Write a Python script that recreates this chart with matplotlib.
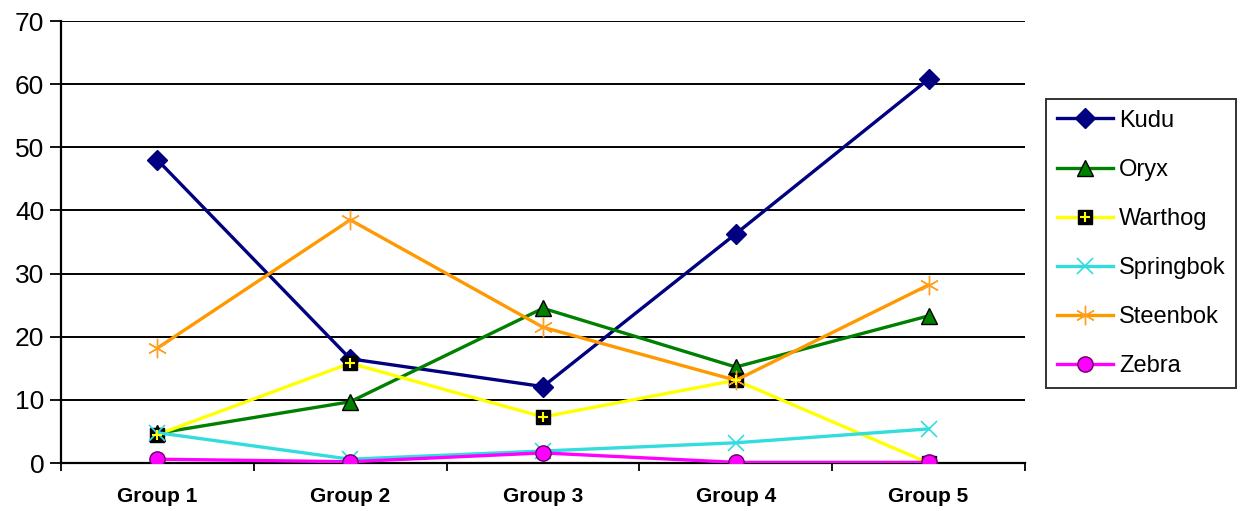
import matplotlib
matplotlib.use("Agg")
import matplotlib.pyplot as plt
from matplotlib.legend_handler import HandlerTuple

groups = ["Group 1", "Group 2", "Group 3", "Group 4", "Group 5"]
kudu = [48.0, 16.5, 12.1, 36.3, 60.8]
oryx = [4.7, 9.7, 24.5, 15.2, 23.3]
warthog = [4.5, 15.8, 7.3, 13.1, 0.0]
springbok = [4.8, 0.6, 1.9, 3.2, 5.4]
steenbok = [18.2, 38.5, 21.5, 13.1, 28.2]
zebra = [0.6, 0.2, 1.6, 0.1, 0.1]
y_ticks = [0, 10, 20, 30, 40, 50, 60, 70]

plt.rcParams["font.family"] = ["Liberation Sans", "DejaVu Sans"]

fig = plt.figure(figsize=(12.41, 5.11), dpi=100)
ax = fig.add_axes([61 / 1241, 48 / 511, (1025 - 61) / 1241, (463 - 21) / 511])

x = list(range(1, len(groups) + 1))
lw = 2.4

h_kudu, = ax.plot(x, kudu, color="#000080", lw=lw, marker="D", ms=10,
                  mfc="#000080", mec="#000080", zorder=3)
h_oryx, = ax.plot(x, oryx, color="#008000", lw=lw, marker="^", ms=12,
                  mfc="#008000", mec="black", mew=1, zorder=3)
h_wart, = ax.plot(x, warthog, color="#FFFF00", lw=lw, marker="s", ms=10,
                  mfc="black", mec="black", zorder=3)
h_wart_plus, = ax.plot(x, warthog, ls="none", marker="+", ms=7, mew=1.5,
                       color="#FFFF00", zorder=3.1)
h_spring, = ax.plot(x, springbok, color="#33DDDD", lw=lw, marker="x", ms=12,
                    mew=1.2, zorder=3)
h_steen, = ax.plot(x, steenbok, color="#FF9900", lw=lw, marker=(6, 2, 0), ms=14,
                   mew=1.0, mec="#FFA020", zorder=3)
h_zebra, = ax.plot(x, zebra, color="#FF00FF", lw=lw, marker="o", ms=11,
                   mfc="#FF00FF", mec="#660066", mew=1, zorder=3.2)

ax.set_xlim(0.5, len(groups) + 0.5)
ax.set_ylim(0, 70)
ax.set_yticks(y_ticks)
ax.set_yticklabels([str(v) for v in y_ticks], fontsize=19, color="#222222")
ax.set_xticks(x)
ax.set_xticklabels(groups, fontsize=15, fontweight="bold")
ax.set_xticks([i + 0.5 for i in range(0, len(groups) + 1)], minor=True)
ax.tick_params(axis="x", which="major", length=0, pad=17)
ax.tick_params(axis="x", which="minor", length=6, width=1.3, direction="out")
ax.tick_params(axis="y", length=8, width=1.3, pad=4, colors="black")

ax.grid(axis="y", color="black", lw=1.4)
ax.set_axisbelow(True)
for s in ["top", "right"]:
    ax.spines[s].set_visible(False)
for s in ["left", "bottom"]:
    ax.spines[s].set_linewidth(1.6)
    ax.spines[s].set_color("black")

handles = [h_kudu, h_oryx, (h_wart, h_wart_plus), h_spring, h_steen, h_zebra]
labels = ["Kudu", "Oryx", "Warthog", "Springbok", "Steenbok", "Zebra"]
leg = fig.legend(handles, labels, loc="upper left",
                 bbox_to_anchor=(1046 / 1241, 1 - 99 / 511),
                 handler_map={tuple: HandlerTuple(ndivide=1)},
                 fontsize=17, frameon=True, fancybox=False, edgecolor="black",
                 handlelength=2.4, handletextpad=0.25, labelspacing=1.15,
                 borderpad=0.45, borderaxespad=0)
leg.get_frame().set_linewidth(1.4)

fig.savefig("out.png", dpi=100, facecolor="white")
